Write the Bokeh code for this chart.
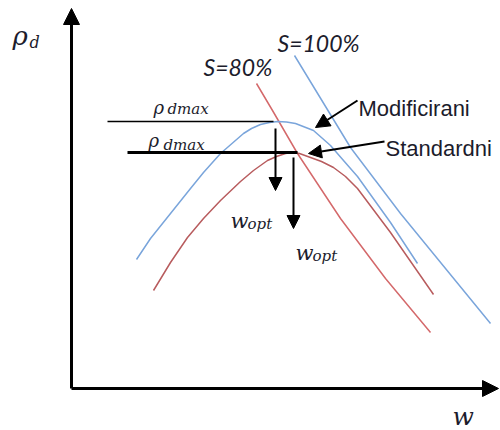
from bokeh.plotting import figure
from bokeh.models import Range1d, Arrow, NormalHead
from bokeh.core.properties import value
from bokeh.embed import file_html
from bokeh.resources import INLINE

# --- schematic data (w = moisture, rho = dry density), arbitrary units ---
mod_w   = [65, 79, 99, 119, 132, 149, 172, 180, 189, 198, 206, 215, 224, 242, 259, 272, 286, 319, 346]
mod_rho = [129, 150, 175, 200, 216, 235, 255, 260, 264, 266, 267, 266.5, 265, 258, 243, 228, 212, 166, 125]

std_w   = [82, 99, 116, 132, 149, 169, 182, 196, 205, 214, 220, 228, 239, 250, 262, 274, 286, 319, 362]
std_rho = [98, 126, 151, 170, 188, 207, 218, 228, 232, 235, 236, 235, 231, 227, 221, 212, 200, 156, 94]

s80_w   = [185, 201, 226, 269, 314, 359]
s80_rho = [305, 278, 235, 170, 110, 56]

s100_w   = [223, 279, 329, 374, 419]
s100_rho = [333, 241, 175, 120, 65]

rho_dmax = [267, 236]          # modified, standard
rho_line_start = [36, 56]
w_opt = [204, 222]             # modified, standard
w_opt_arrow_top = [260, 231]
w_opt_arrow_tip = [198, 160]

BLUE = "#7aa5db"
RED_S = "#d4696b"
RED_C = "#b85c5e"
INK = "#1c1c2c"

p = figure(width=500, height=430, x_range=Range1d(-71, 429), y_range=Range1d(-42, 388),
           output_backend="svg", toolbar_location=None, min_border=0,
           x_axis_location=None, y_axis_location=None)
p.grid.visible = False
p.outline_line_color = None
p.background_fill_color = "white"
p.border_fill_color = "white"

# axes (schematic arrows)
p.add_layout(Arrow(end=NormalHead(size=16, fill_color="black", line_color="black"),
                   x_start=0, y_start=0, x_end=0, y_end=380, line_width=3, line_color="black"))
p.add_layout(Arrow(end=NormalHead(size=16, fill_color="black", line_color="black"),
                   x_start=0, y_start=0, x_end=427, y_end=0, line_width=3, line_color="black"))

# curves
p.line(s100_w, s100_rho, line_color=BLUE, line_width=1.5)
p.line(s80_w, s80_rho, line_color=RED_S, line_width=1.5)
p.line(mod_w, mod_rho, line_color=BLUE, line_width=1.5, line_join="round")
p.line(std_w, std_rho, line_color=RED_C, line_width=1.5, line_join="round")

# rho_dmax horizontal lines
p.segment(x0=rho_line_start, y0=rho_dmax, x1=[w_opt[0] - 2, w_opt[1] + 4], y1=rho_dmax,
          line_color="black", line_width=[1.5, 3])

# w_opt arrows
for wx, top, tip in zip(w_opt, w_opt_arrow_top, w_opt_arrow_tip):
    p.add_layout(Arrow(end=NormalHead(size=13, fill_color="black", line_color="black"),
                       x_start=wx, y_start=top, x_end=wx, y_end=tip,
                       line_width=2, line_color="black"))

# pointer arrows to curve labels
p.add_layout(Arrow(end=NormalHead(size=14, fill_color="black", line_color="black"),
                   x_start=286, y_start=288, x_end=244, y_end=261, line_width=2, line_color="black"))
p.add_layout(Arrow(end=NormalHead(size=13, fill_color="black", line_color="black"),
                   x_start=313, y_start=247, x_end=237, y_end=235, line_width=2, line_color="black"))

SERIF = value("DejaVu Serif")
SANS = value("Liberation Sans")
ITSANS = value("Lato")

# axis labels
p.text(x=[-59], y=[353], text=["ρ"], text_font=SERIF, text_font_style="italic",
       text_font_size="26px", text_color=INK, text_baseline="alphabetic")
p.text(x=[-42], y=[346], text=["d"], text_font=SERIF, text_font_style="italic",
       text_font_size="16px", text_color=INK, text_baseline="alphabetic")
p.text(x=[381], y=[-28], text=["w"], text_font=SERIF, text_font_style="italic",
       text_font_size="25px", text_color=INK, text_baseline="alphabetic")

# saturation labels
p.text(x=[206, 132], y=[346, 322], text=["S=100%", "S=80%"], text_font=ITSANS,
       text_font_style="italic", text_font_size="23px", text_color=INK,
       text_baseline="alphabetic")

# curve names
p.text(x=[287, 314], y=[280, 240], text=["Modificirani", "Standardni"], text_font=SANS,
       text_font_size="22px", text_color=INK, text_baseline="alphabetic")

# rho_dmax labels
p.text(x=[82, 77], y=[281, 248], text=["ρ", "ρ"], text_font=SERIF, text_font_style="italic",
       text_font_size="18px", text_color=INK, text_baseline="alphabetic")
p.text(x=[96, 92], y=[280, 244], text=["dmax", "dmax"], text_font=SERIF, text_font_style="italic",
       text_font_size="15px", text_color=INK, text_baseline="alphabetic")

# w_opt labels
p.text(x=[159, 224], y=[168, 136], text=["w", "w"], text_font=SERIF, text_font_style="italic",
       text_font_size="21px", text_color=INK, text_baseline="alphabetic")
p.text(x=[176, 241], y=[165, 133], text=["opt", "opt"], text_font=SERIF, text_font_style="italic",
       text_font_size="15px", text_color=INK, text_baseline="alphabetic")

open("out.html", "w").write(file_html(p, INLINE))
